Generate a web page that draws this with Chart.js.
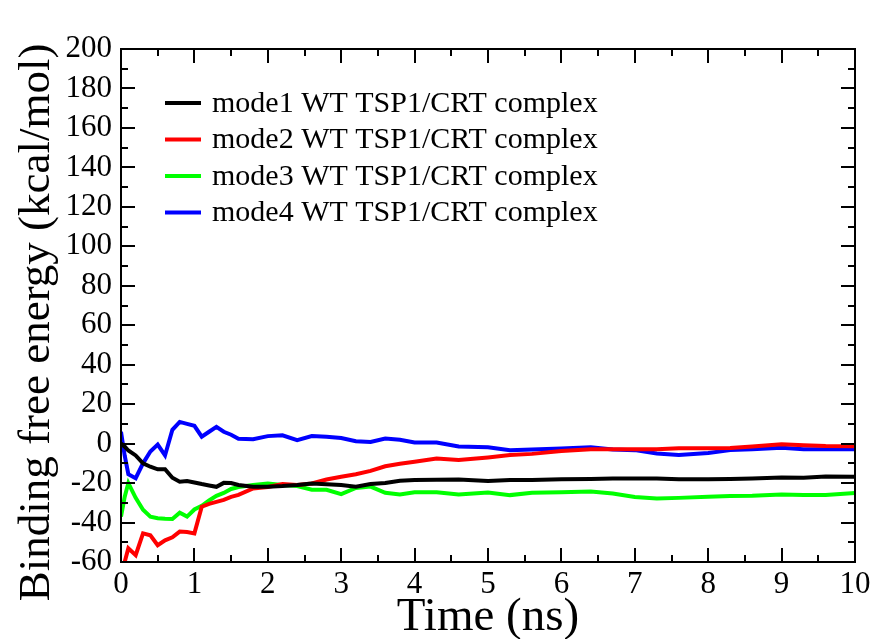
<!DOCTYPE html>
<html>
<head>
<meta charset="utf-8">
<script src="https://cdn.jsdelivr.net/npm/chart.js@4.4.1/dist/chart.umd.min.js"></script>
<style>
  html, body { margin: 0; padding: 0; background: #fff; }
  #wrap { width: 875px; height: 639px; }
</style>
</head>
<body>
<div id="wrap"><canvas id="chart" width="875" height="639"></canvas></div>
<script>
// time (ns)
const time = [0, 0.05, 0.1, 0.2, 0.3, 0.4, 0.5, 0.6, 0.7, 0.8, 0.9, 1.0, 1.1, 1.2, 1.3, 1.4, 1.5, 1.6, 1.8,
  2.0, 2.2, 2.4, 2.6, 2.8, 3.0, 3.2, 3.4, 3.6, 3.8, 4.0, 4.3, 4.6, 5.0, 5.3, 5.6, 6.0, 6.4, 6.7,
  7.0, 7.3, 7.6, 8.0, 8.3, 8.6, 9.0, 9.3, 9.6, 10.0];

const mode1 = [0, -1.5, -3.5, -6, -10, -11.7, -13, -13, -17.3, -19.3, -19, -19.7, -20.5, -21.2, -21.9, -19.9, -20, -21, -21.9,
  -21.8, -21.5, -21, -20.2, -20.6, -21, -21.8, -20.5, -20, -18.8, -18.5, -18.3, -18.2, -19, -18.5, -18.5, -18, -17.9, -17.7,
  -17.7, -17.7, -18, -18, -17.9, -17.7, -17.2, -17.3, -16.7, -16.8];

const mode2 = [-66, -60, -53, -56.5, -45.5, -46.5, -51.5, -49, -47.5, -44.6, -44.8, -45.5, -32, -30.5, -29.5, -28.5, -27, -26, -22.7,
  -22, -20.5, -21, -20.2, -18.2, -16.8, -15.5, -13.8, -11.5, -10.2, -9.2, -7.6, -8.3, -7, -5.8, -5.2, -3.7, -2.8, -2.8,
  -2.8, -2.8, -2.3, -2.4, -2.2, -1.5, -0.3, -0.8, -1.2, -1.3];

const mode3 = [-37, -27, -20, -27.5, -33.5, -37, -37.8, -38.1, -38.2, -35, -37, -33.4, -31.5, -28.8, -26.5, -25, -23, -22, -21,
  -20.2, -21, -21.5, -23.4, -23.4, -25.6, -22.5, -21.8, -24.9, -25.8, -24.6, -24.7, -25.8, -24.8, -26.1, -24.9, -24.6, -24.3, -25.3,
  -27, -27.8, -27.5, -26.9, -26.5, -26.4, -25.8, -26, -26, -25];

const mode4 = [6, -6, -15.5, -17.5, -10, -4, -0.5, -6, 7, 11, 10, 9, 3.5, 6, 8.5, 6, 4.5, 2.5, 2.2,
  3.8, 4.2, 1.8, 3.8, 3.5, 2.8, 1.2, 0.8, 2.6, 2, 0.6, 0.6, -1.5, -1.8, -3.3, -3, -2.5, -1.9, -3,
  -3.3, -5, -5.8, -4.8, -3.3, -2.8, -2.1, -2.9, -2.8, -2.8];

const seriesLabels = [
  "mode1 WT TSP1/CRT complex",
  "mode2 WT TSP1/CRT complex",
  "mode3 WT TSP1/CRT complex",
  "mode4 WT TSP1/CRT complex",
];
const seriesColors = ["#000000", "#ff0000", "#00ff00", "#0000ff"];
const seriesValues = [mode1, mode2, mode3, mode4];

const SERIF = "'Liberation Serif', 'DejaVu Serif', serif";

// inward ticks on all four sides + frame (xmgrace style)
const frameTicks = {
  id: "frameTicks",
  afterDatasetsDraw(chart) {
    const { ctx, chartArea: a, scales } = chart;
    const x = scales.x, y = scales.y;
    ctx.save();
    ctx.strokeStyle = "#000";
    ctx.lineWidth = 2;
    ctx.beginPath();
    for (let v = 0; v <= 10.001; v += 0.5) {
      const px = Math.round(x.getPixelForValue(v));
      const len = Math.abs(v - Math.round(v)) < 0.01 ? 14 : 7;
      ctx.moveTo(px, a.bottom); ctx.lineTo(px, a.bottom - len);
      ctx.moveTo(px, a.top); ctx.lineTo(px, a.top + len);
    }
    for (let v = -60; v <= 200; v += 10) {
      const py = Math.round(y.getPixelForValue(v));
      const len = v % 20 === 0 ? 14 : 7;
      ctx.moveTo(a.left, py); ctx.lineTo(a.left + len, py);
      ctx.moveTo(a.right, py); ctx.lineTo(a.right - len, py);
    }
    ctx.stroke();
    ctx.strokeRect(a.left, a.top, a.right - a.left, a.bottom - a.top);
    ctx.restore();
  },
};

// legend drawn inside the plot, top-left
const innerLegend = {
  id: "innerLegend",
  afterDraw(chart) {
    const { ctx } = chart;
    ctx.save();
    ctx.font = "30px " + SERIF;
    ctx.textBaseline = "middle";
    ctx.fillStyle = "#000";
    chart.data.datasets.forEach((ds, i) => {
      const yy = 103 + i * 36.5;
      ctx.strokeStyle = ds.borderColor;
      ctx.lineWidth = 4;
      ctx.beginPath();
      ctx.moveTo(165, yy); ctx.lineTo(201, yy);
      ctx.stroke();
      ctx.fillText(ds.label, 212, yy + 1);
    });
    ctx.restore();
  },
};

new Chart(document.getElementById("chart"), {
  type: "line",
  data: {
    datasets: seriesValues.map((vals, i) => ({
      label: seriesLabels[i],
      data: time.map((t, j) => ({ x: t, y: vals[j] })),
      borderColor: seriesColors[i],
      borderWidth: 4,
      pointRadius: 0,
      tension: 0,
      fill: false,
    })),
  },
  options: {
    responsive: false,
    animation: false,
    layout: { padding: { top: 49, right: 20, left: 0, bottom: 0 } },
    plugins: { legend: { display: false }, tooltip: { enabled: false } },
    scales: {
      x: {
        type: "linear",
        min: 0,
        max: 10,
        grid: { display: false, drawTicks: false },
        border: { display: false },
        ticks: { stepSize: 1, autoSkip: false, color: "#000", padding: 4, font: { family: SERIF, size: 31 }, maxRotation: 0 },
        title: { display: true, text: "Time (ns)", color: "#000", font: { family: SERIF, size: 47 }, padding: { bottom: -7 } },
        afterFit(s) { s.height = 77; },
      },
      y: {
        min: -60,
        max: 200,
        grid: { display: false, drawTicks: false },
        border: { display: false },
        ticks: { stepSize: 20, autoSkip: false, color: "#000", padding: 9, font: { family: SERIF, size: 31 } },
        // trailing nbsp nudges the centred title down to where the original sits
        title: { display: true, text: "Binding free energy (kcal/mol)\u00a0\u00a0\u00a0", color: "#000", font: { family: SERIF, size: 45 }, padding: { top: 10 } },
        afterFit(s) { s.width = 121; },
      },
    },
  },
  plugins: [frameTicks, innerLegend],
});
</script>
</body>
</html>
